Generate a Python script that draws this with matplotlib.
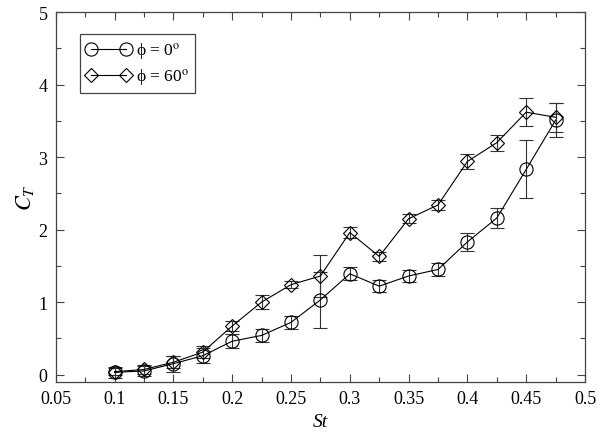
import numpy as np
import matplotlib
matplotlib.use("Agg")
import matplotlib.pyplot as plt
from matplotlib.ticker import MultipleLocator
from matplotlib.lines import Line2D

plt.rcParams['font.family'] = ['Liberation Serif', 'DejaVu Serif']
plt.rcParams['mathtext.fontset'] = 'stix'

St = [0.1, 0.125, 0.15, 0.175, 0.2, 0.225, 0.25, 0.275,
      0.3, 0.325, 0.35, 0.375, 0.4, 0.425, 0.45, 0.475]

# phi = 0 deg
ct_0 = [0.03, 0.05, 0.15, 0.26, 0.46, 0.54, 0.72, 1.03,
        1.39, 1.22, 1.36, 1.45, 1.83, 2.16, 2.83, 3.51]
err_0 = [0.08, 0.07, 0.11, 0.10, 0.10, 0.09, 0.09, 0.39,
         0.09, 0.08, 0.085, 0.085, 0.12, 0.14, 0.40, 0.23]

# phi = 60 deg
ct_60 = [0.04, 0.07, 0.17, 0.31, 0.67, 1.00, 1.24, 1.36,
         1.96, 1.63, 2.15, 2.34, 2.94, 3.20, 3.62, 3.55]
err_60 = [0.05, 0.06, 0.08, 0.08, 0.07, 0.10, 0.05, 0.29,
          0.08, 0.06, 0.06, 0.075, 0.10, 0.11, 0.19, 0.20]

labels = ["\u03d5 = 0$^{\\mathrm{o}}$", "\u03d5 = 60$^{\\mathrm{o}}$"]

fig = plt.figure(figsize=(6.0, 4.39), dpi=100)
ax = fig.add_axes([0.093, 0.128, 0.882, 0.842])

style = dict(color="black", ecolor="#333333", elinewidth=0.8, capsize=5,
             capthick=0.8, lw=0.8, mfc="none", mec="black", mew=0.8)
ax.errorbar(St, ct_0, yerr=err_0, marker="o", ms=9.5, **style)
ax.errorbar(St, ct_60, yerr=err_60, marker="D", ms=7, **style)

ax.set_xlim(0.05, 0.5)
ax.set_ylim(-0.1, 5)
ax.xaxis.set_minor_locator(MultipleLocator(0.025))
ax.yaxis.set_major_locator(MultipleLocator(1))
ax.yaxis.set_minor_locator(MultipleLocator(0.5))
ax.set_xticks(np.arange(0.05, 0.501, 0.05))
ax.set_xticklabels(["0.05", "0.1", "0.15", "0.2", "0.25", "0.3",
                    "0.35", "0.4", "0.45", "0.5"])
ax.tick_params(which="both", direction="in", top=True, right=True,
               labelsize=13, color="#444444", pad=6)
ax.tick_params(which="major", length=6, width=0.8)
ax.tick_params(which="minor", length=3.5, width=0.8)
for s in ax.spines.values():
    s.set_color("#444444")
    s.set_linewidth(0.9)

ax.set_xlabel("St", fontsize=14, style="italic", labelpad=4)
ax.set_ylabel(r"$C_T$", fontsize=16, labelpad=2)

handles = [
    Line2D([], [], color="black", lw=0.8, marker="o", ms=9.5,
           mfc="none", mec="black", mew=0.8),
    Line2D([], [], color="black", lw=0.8, marker="D", ms=7,
           mfc="none", mec="black", mew=0.8),
]
leg = ax.legend(handles, labels, loc="upper left", numpoints=2,
                bbox_to_anchor=(0.045, 0.94),
                fontsize=12.5, fancybox=False, framealpha=1,
                edgecolor="#444444", handlelength=2.6, handletextpad=0.3,
                borderpad=0.35, labelspacing=0.3, borderaxespad=0)
leg.get_frame().set_linewidth(0.9)

fig.savefig("out.png", dpi=100)
